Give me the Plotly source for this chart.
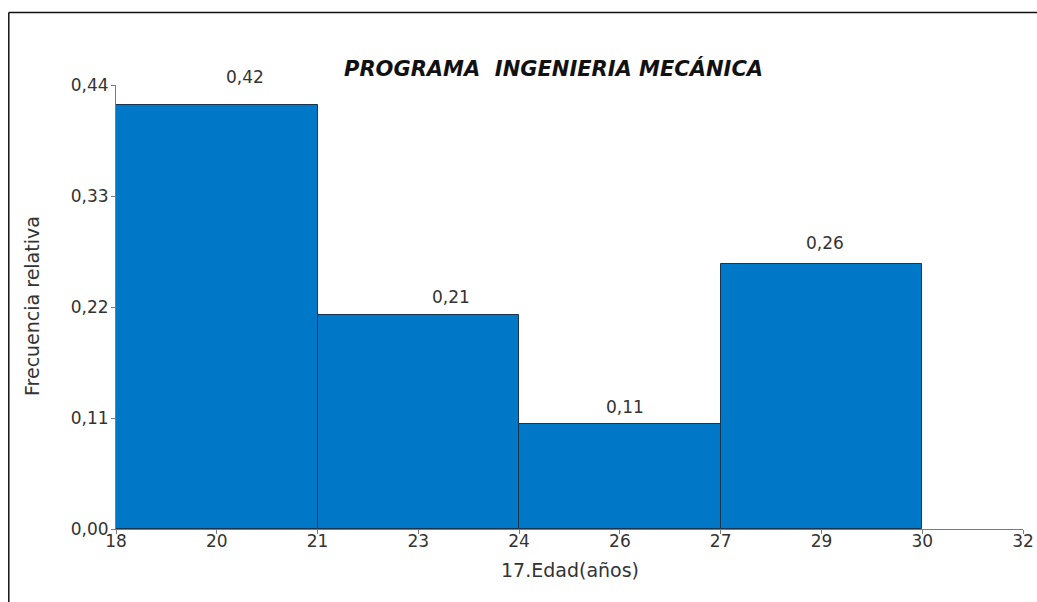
import plotly.graph_objects as go

bin_edges = [18, 21, 24, 27, 30]
rel_freq = [0.420, 0.212, 0.104, 0.263]
bar_labels = ["0,42", "0,21", "0,11", "0,26"]
x_tick_vals = [18, 19.5, 21, 22.5, 24, 25.5, 27, 28.5, 30, 31.5]
x_tick_text = ["18", "20", "21", "23", "24", "26", "27", "29", "30", "32"]
y_tick_vals = [0.0, 0.11, 0.22, 0.33, 0.44]

W, H = 1037, 602
ml, mt = 116, 85
plot_r, plot_b = 1023, 529
mr, mb = W - plot_r, H - plot_b
pw, ph = W - ml - mr, H - mt - mb

FONT = "DejaVu Sans, Arial"
TXT = "#333333"

def px(page_x):
    return (page_x - ml) / pw

def py(page_y):
    return (H - mb - page_y) / ph

mids = [(a + b) / 2 for a, b in zip(bin_edges[:-1], bin_edges[1:])]
widths = [b - a for a, b in zip(bin_edges[:-1], bin_edges[1:])]

fig = go.Figure()
fig.add_trace(go.Bar(
    x=mids, y=rel_freq, width=widths,
    marker=dict(color="#0078C8", line=dict(color="#1a3550", width=1)),
    hoverinfo="skip",
))

label_xshift = [28, 33, 5, 4]
label_yshift = [28, 18, 17, 21]
for m, v, t, xs, ys in zip(mids, rel_freq, bar_labels, label_xshift, label_yshift):
    fig.add_annotation(x=m, y=v, text=t, showarrow=False, yanchor="middle",
                       xshift=xs, yshift=ys, font=dict(family=FONT, size=17, color=TXT))

fig.add_annotation(xref="paper", yref="paper", x=px(553), y=py(68),
                   text="<b><i>PROGRAMA  INGENIERIA MECÁNICA</i></b>", showarrow=False,
                   xanchor="center", yanchor="middle",
                   font=dict(family=FONT, size=21, color="#111111"))

fig.add_annotation(xref="paper", yref="paper", x=px(570), y=py(570),
                   text="17.Edad(años)", showarrow=False, xanchor="center", yanchor="middle",
                   font=dict(family=FONT, size=19, color=TXT))

fig.add_annotation(xref="paper", yref="paper", x=px(32), y=py(306),
                   text="Frecuencia relativa", showarrow=False, textangle=-90,
                   xanchor="center", yanchor="middle",
                   font=dict(family=FONT, size=19, color=TXT))

# outer frame (top and left edges)
fig.add_shape(type="line", xref="paper", yref="paper",
              x0=px(8.8), x1=px(1045), y0=py(12.5), y1=py(12.5),
              line=dict(color="#111111", width=1.5))
fig.add_shape(type="line", xref="paper", yref="paper",
              x0=px(8.8), x1=px(8.8), y0=py(12.5), y1=py(610),
              line=dict(color="#111111", width=1.5))

fig.update_layout(
    template="none",
    width=W, height=H,
    autosize=False,
    margin=dict(l=ml, r=mr, t=mt, b=mb, pad=0),
    plot_bgcolor="white", paper_bgcolor="white",
    separators=",.",
    showlegend=False,
    bargap=0,
    font=dict(family=FONT, size=17, color=TXT),
    xaxis=dict(range=[18, 31.5], tickvals=x_tick_vals, ticktext=x_tick_text,
               automargin=False, ticklabelstandoff=-7,
               showgrid=False, zeroline=False, showline=True, linecolor="#7a7a7a",
               ticks="outside", ticklen=4, tickcolor="#7a7a7a",
               tickfont=dict(family=FONT, size=17, color=TXT)),
    yaxis=dict(range=[0, 0.44], tickvals=y_tick_vals, tickformat=".2f",
               automargin=False, ticklabelstandoff=-1,
               showgrid=False, zeroline=False, showline=True, linecolor="#7a7a7a",
               ticks="outside", ticklen=4, tickcolor="#7a7a7a",
               tickfont=dict(family=FONT, size=17, color=TXT)),
)

fig.write_html("out.html", config={"displayModeBar": False},
               post_script="document.body.style.margin='0';")
